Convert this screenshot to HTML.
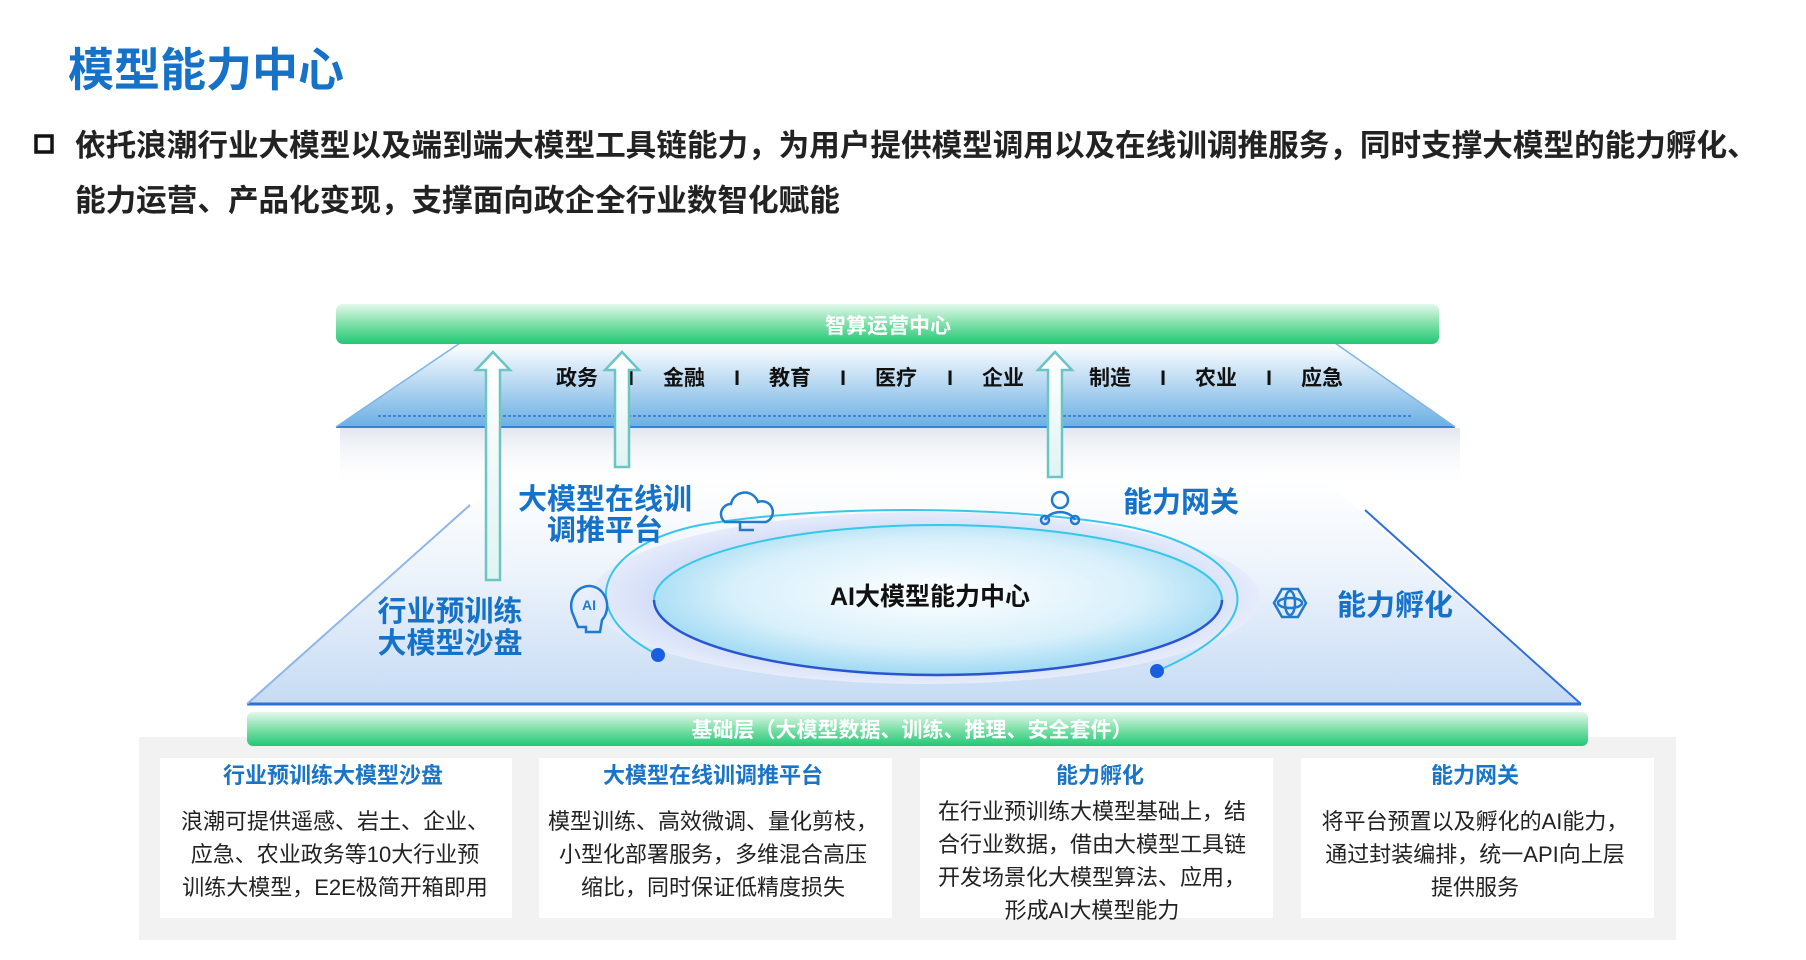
<!DOCTYPE html>
<html><head><meta charset="utf-8"><style>
html,body{margin:0;padding:0;background:#fff;}
body{width:1806px;height:960px;overflow:hidden;position:relative;font-family:"Liberation Sans","Noto Sans CJK SC",sans-serif;}
svg{position:absolute;left:0;top:0;}
text{font-family:"Liberation Sans","Noto Sans CJK SC",sans-serif;}
</style></head><body>
<svg width="1806" height="960" viewBox="0 0 1806 960" xmlns="http://www.w3.org/2000/svg">
<defs>
<linearGradient id="green" x1="0" y1="0" x2="0" y2="1"><stop offset="0" stop-color="#e4f8ec"/><stop offset="0.5" stop-color="#7fe0a8"/><stop offset="1" stop-color="#22c775"/></linearGradient>
<linearGradient id="topPlat" x1="0" y1="0" x2="0" y2="1"><stop offset="0" stop-color="#ffffff"/><stop offset="1" stop-color="#5aa6e0"/></linearGradient>
<linearGradient id="lowPlat" x1="0" y1="0" x2="0" y2="1"><stop offset="0" stop-color="#ffffff"/><stop offset="0.4" stop-color="#eef4fc"/><stop offset="1" stop-color="#c6dbf4"/></linearGradient>
<radialGradient id="ell" cx="0.5" cy="0.45" r="0.6"><stop offset="0" stop-color="#ffffff"/><stop offset="0.6" stop-color="#d8f0fb"/><stop offset="1" stop-color="#8fd3f1"/></radialGradient>
<radialGradient id="ring" cx="0.5" cy="0.5" r="0.5"><stop offset="0.7" stop-color="#c9d6f5"/><stop offset="1" stop-color="#e6ecfb"/></radialGradient>
<linearGradient id="arr" x1="0" y1="0" x2="0" y2="1"><stop offset="0" stop-color="#ffffff"/><stop offset="1" stop-color="#dff4f3"/></linearGradient>
<linearGradient id="shadow" x1="0" y1="0" x2="0" y2="1"><stop offset="0" stop-color="#e2e6ee"/><stop offset="1" stop-color="#ffffff" stop-opacity="0"/></linearGradient>
</defs>

<text x="68" y="86" font-size="46" font-weight="bold" fill="#1572c8">模型能力中心</text>
<rect x="36" y="136" width="16" height="16" fill="none" stroke="#111" stroke-width="3.5"/>
<text x="75" y="156" font-size="30.6" font-weight="bold" fill="#222">依托浪潮行业大模型以及端到端大模型工具链能力，为用户提供模型调用以及在线训调推服务，同时支撑大模型的能力孵化、</text>
<text x="75" y="211" font-size="30.6" font-weight="bold" fill="#222">能力运营、产品化变现，支撑面向政企全行业数智化赋能</text>

<rect x="340" y="428" width="1120" height="60" fill="url(#shadow)"/>

<polygon points="500,480 1325,480 1581,704 247,704" fill="url(#lowPlat)"/>
<line x1="247" y1="704" x2="1581" y2="704" stroke="#2f6fd8" stroke-width="3"/>
<line x1="247" y1="704" x2="470" y2="505" stroke="#8fb6ea" stroke-width="2"/>
<line x1="1581" y1="704" x2="1365" y2="510" stroke="#2f6fd8" stroke-width="2"/>

<ellipse cx="925" cy="598" rx="335" ry="86" fill="url(#ring)"/>
<path d="M658,655 C570,610 600,545 700,525 C820,505 1000,505 1120,525 C1230,545 1300,610 1157,671" fill="none" stroke="#38c7e8" stroke-width="2"/>
<ellipse cx="938" cy="600" rx="284" ry="75" fill="url(#ell)" stroke="#35c8e8" stroke-width="2"/>
<path d="M654,600 A284,75 0 0 0 1222,600" fill="none" stroke="#2a55d0" stroke-width="2.5"/>
<circle cx="658" cy="655" r="7" fill="#1a5ee0"/>
<circle cx="1157" cy="671" r="7" fill="#1a5ee0"/>
<text x="930" y="605" font-size="25" font-weight="bold" fill="#111" text-anchor="middle">AI大模型能力中心</text>

<g fill="none" stroke="#1f7ad0" stroke-width="2.5">
<path d="M725,522 a10,10 0 0 1 6,-18 a14,14 0 0 1 27,-2 a10,10 0 0 1 8,20 z"/>
<path d="M740,522 v8 h14"/>
<circle cx="1060" cy="500" r="8"/><path d="M1045,520 a16,12 0 0 1 30,0"/><circle cx="1045" cy="520" r="4"/><circle cx="1075" cy="520" r="4"/>
<path d="M572,612 a18,20 0 1 1 30,8 l-2,12 h-14 v-5 h-8 z"/>
<polygon points="1274,603 1282,589 1298,589 1306,603 1298,617 1282,617"/>
<ellipse cx="1290" cy="603" rx="12" ry="5"/><ellipse cx="1290" cy="603" rx="5" ry="12"/>
</g>
<text x="589" y="610" font-size="14" font-weight="bold" fill="#1f7ad0" text-anchor="middle">AI</text>

<g font-size="29" font-weight="bold" fill="#1572c8">
<text x="605" y="509" text-anchor="middle">大模型在线训</text>
<text x="605" y="540" text-anchor="middle">调推平台</text>
<text x="1123" y="512">能力网关</text>
<text x="450" y="621" text-anchor="middle">行业预训练</text>
<text x="450" y="653" text-anchor="middle">大模型沙盘</text>
<text x="1337" y="615">能力孵化</text>
</g>

<polygon points="460,343 1335,343 1455,427 336,427" fill="url(#topPlat)" opacity="0.9"/>
<line x1="336" y1="427" x2="1455" y2="427" stroke="#2f86d8" stroke-width="2"/>
<line x1="336" y1="427" x2="460" y2="343" stroke="#7db5e6" stroke-width="1.5"/>
<line x1="1455" y1="427" x2="1335" y2="343" stroke="#7db5e6" stroke-width="1.5"/>
<polyline points="378,416 1412,416" stroke="#2f6fd8" stroke-width="1.5" stroke-dasharray="3,2" fill="none"/>

<rect x="336" y="304" width="1103" height="40" rx="7" fill="url(#green)"/>
<text x="888" y="333" font-size="21" font-weight="bold" fill="#fff" text-anchor="middle">智算运营中心</text>

<g font-size="21" font-weight="bold" fill="#111" text-anchor="middle">
<text x="577" y="385">政务</text><text x="684" y="385">金融</text><text x="790" y="385">教育</text><text x="896" y="385">医疗</text><text x="1003" y="385">企业</text><text x="1110" y="385">制造</text><text x="1216" y="385">农业</text><text x="1322" y="385">应急</text>
<text x="631" y="385">I</text><text x="737" y="385">I</text><text x="843" y="385">I</text><text x="950" y="385">I</text><text x="1057" y="385">I</text><text x="1163" y="385">I</text><text x="1269" y="385">I</text>
</g>

<g fill="url(#arr)" stroke="#6cc5c2" stroke-width="2.5">
<polygon points="486,580 486,370 476,370 493,352 510,370 500,370 500,580"/>
<polygon points="615,467 615,370 605,370 622,352 639,370 629,370 629,467"/>
<polygon points="1048,477 1048,370 1038,370 1055,352 1072,370 1062,370 1062,477"/>
</g>

<rect x="139" y="737" width="1537" height="203" fill="#f2f2f2"/>
<rect x="160" y="758" width="352" height="160" fill="#fff"/>
<rect x="539" y="758" width="353" height="160" fill="#fff"/>
<rect x="920" y="758" width="353" height="160" fill="#fff"/>
<rect x="1301" y="758" width="353" height="160" fill="#fff"/>

<rect x="247" y="712" width="1341" height="34" rx="6" fill="url(#green)"/>
<text x="912" y="737" font-size="21" font-weight="bold" fill="#fff" text-anchor="middle">基础层（大模型数据、训练、推理、安全套件）</text>

<g font-size="22" font-weight="bold" fill="#1a75c9" text-anchor="middle">
<text x="333" y="783">行业预训练大模型沙盘</text>
<text x="713" y="783">大模型在线训调推平台</text>
<text x="1100" y="783">能力孵化</text>
<text x="1475" y="783">能力网关</text>
</g>
<g font-size="22" fill="#222" text-anchor="middle">
<text x="335" y="829">浪潮可提供遥感、岩土、企业、</text>
<text x="335" y="862">应急、农业政务等10大行业预</text>
<text x="335" y="895">训练大模型，E2E极简开箱即用</text>
<text x="713" y="829">模型训练、高效微调、量化剪枝，</text>
<text x="713" y="862">小型化部署服务，多维混合高压</text>
<text x="713" y="895">缩比，同时保证低精度损失</text>
<text x="1092" y="819">在行业预训练大模型基础上，结</text>
<text x="1092" y="852">合行业数据，借由大模型工具链</text>
<text x="1092" y="885">开发场景化大模型算法、应用，</text>
<text x="1092" y="918">形成AI大模型能力</text>
<text x="1475" y="829">将平台预置以及孵化的AI能力，</text>
<text x="1475" y="862">通过封装编排，统一API向上层</text>
<text x="1475" y="895">提供服务</text>
</g>
</svg>
</body></html>
